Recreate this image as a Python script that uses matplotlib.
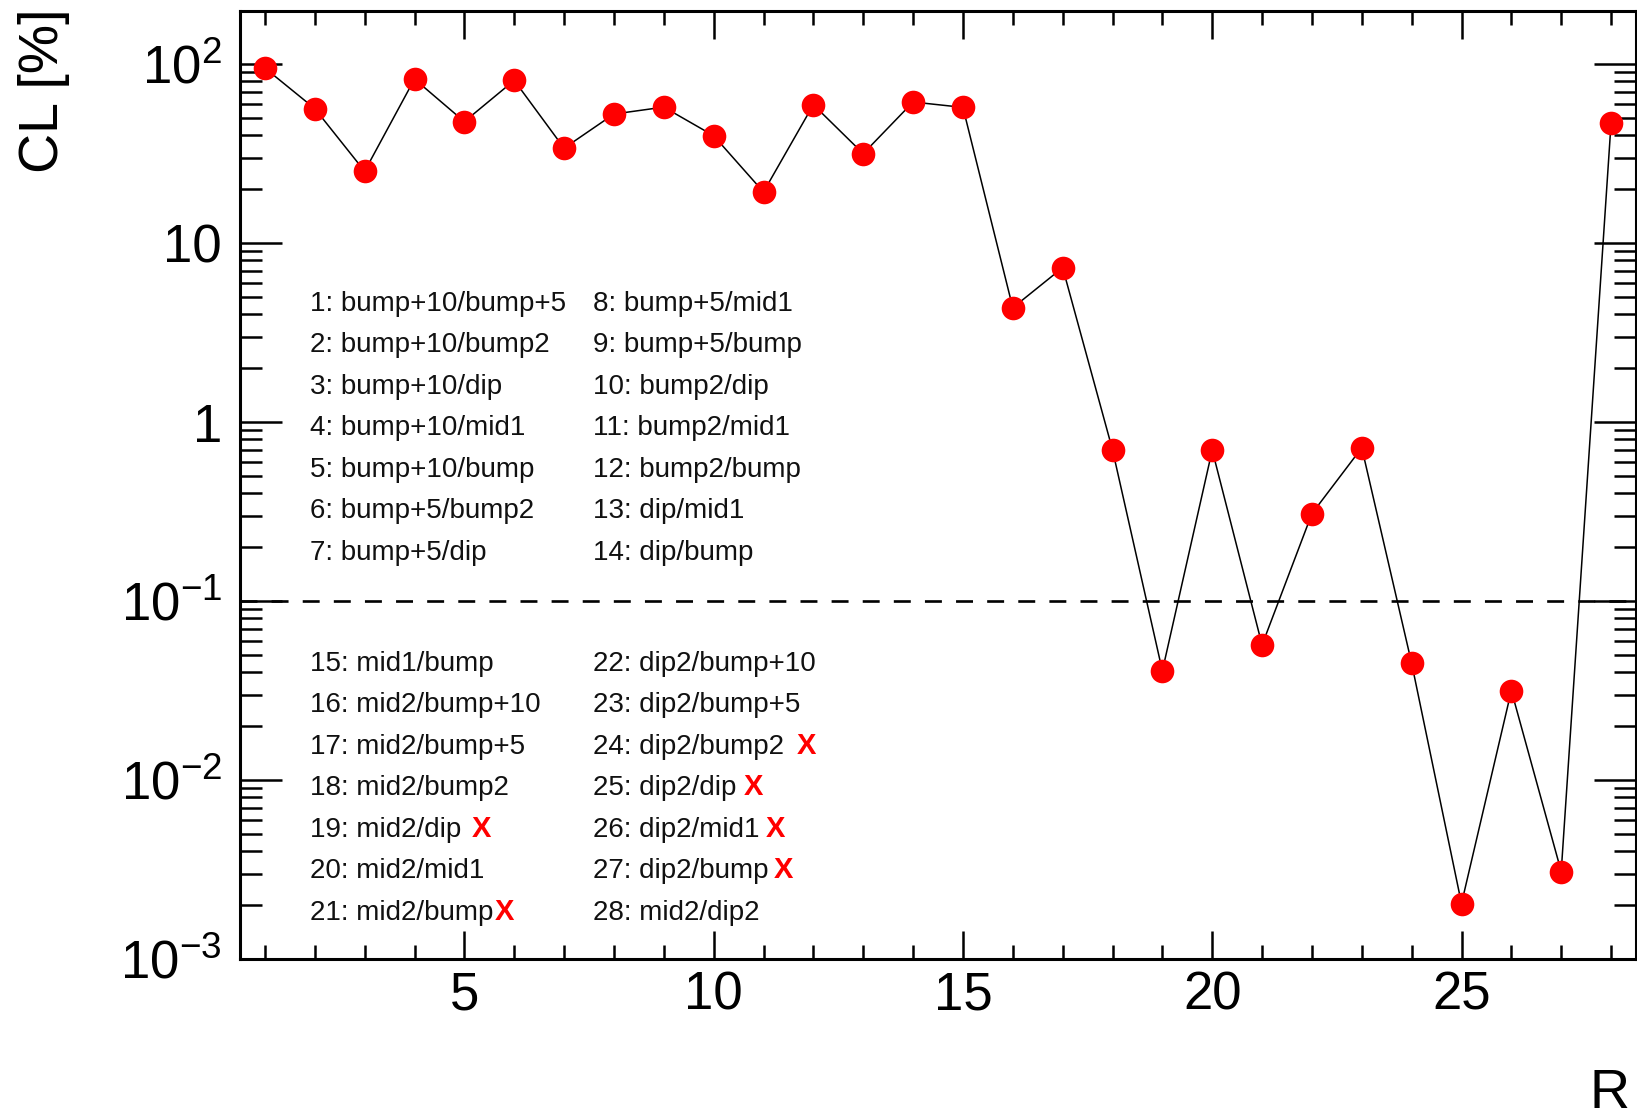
import matplotlib
matplotlib.use("Agg")
import matplotlib.pyplot as plt
from matplotlib.ticker import FixedLocator, FixedFormatter, LogLocator, NullFormatter, MultipleLocator
import numpy as np

plt.rcParams['font.family'] = ['Liberation Sans', 'DejaVu Sans']
plt.rcParams['mathtext.fontset'] = 'custom'
plt.rcParams['mathtext.rm'] = 'Liberation Sans'
plt.rcParams['mathtext.it'] = 'Liberation Sans:italic'
plt.rcParams['mathtext.bf'] = 'Liberation Sans:bold'
plt.rcParams['lines.scale_dashes'] = False

# -------------------------
# Data: confidence level per ratio
# -------------------------
ratio_index = np.arange(1, 29)
cl_percent = [95.0, 56.4, 25.2, 82.5, 47.7, 81.1, 33.9, 52.6, 57.5, 39.8,
              19.3, 59.3, 31.6, 61.4, 57.3, 4.35, 7.29, 0.70, 0.0407, 0.697,
              0.0568, 0.308, 0.718, 0.0449, 0.00204, 0.0316, 0.00308, 46.9]

ratio_names = [
    "bump+10/bump+5", "bump+10/bump2", "bump+10/dip", "bump+10/mid1",
    "bump+10/bump", "bump+5/bump2", "bump+5/dip", "bump+5/mid1",
    "bump+5/bump", "bump2/dip", "bump2/mid1", "bump2/bump",
    "dip/mid1", "dip/bump", "mid1/bump", "mid2/bump+10",
    "mid2/bump+5", "mid2/bump2", "mid2/dip", "mid2/mid1",
    "mid2/bump", "dip2/bump+10", "dip2/bump+5", "dip2/bump2",
    "dip2/dip", "dip2/mid1", "dip2/bump", "mid2/dip2",
]

# ratios flagged as rejected, with x pixel of the red mark
rejected_marks = {19: 472, 21: 495, 24: 797, 25: 744, 26: 766, 27: 774}

y_tick_values = [1e-3, 1e-2, 1e-1, 1, 10, 100]
y_tick_labels = [r"$10^{-3}$", r"$10^{-2}$", r"$10^{-1}$", "1", "10", r"$10^{2}$"]
x_tick_values = [5, 10, 15, 20, 25]
cl_threshold = 0.1

# -------------------------
# Figure
# -------------------------
W, H = 1637, 1118
fig = plt.figure(figsize=(W / 100, H / 100), dpi=100)

def fx(px):
    return px / W

def fy(py):
    return 1 - py / H

ax = fig.add_axes([fx(240), fy(959), fx(1636 - 240), (959 - 11) / H])
ax.set_yscale('log')

ax.plot(ratio_index, cl_percent, color='black', lw=1.1,
        marker='o', ms=17, mfc='red', mec='red', mew=0, zorder=3)
ax.axhline(cl_threshold, color='black', lw=1.9, dashes=(12.2, 10.2), zorder=2)

ax.set_xlim(0.5, 28.5)
ax.set_ylim(1e-3, 198)

ax.yaxis.set_major_locator(FixedLocator(y_tick_values))
ax.yaxis.set_major_formatter(FixedFormatter(y_tick_labels))
ax.yaxis.set_minor_locator(LogLocator(base=10, subs=np.arange(2, 10)))
ax.yaxis.set_minor_formatter(NullFormatter())
ax.xaxis.set_major_locator(FixedLocator(x_tick_values))
ax.xaxis.set_minor_locator(MultipleLocator(1))

ax.tick_params(which='both', direction='in', top=True, right=True,
               width=1.8, labelsize=38, colors='black')
ax.tick_params(axis='y', which='major', length=30, pad=13)
ax.tick_params(axis='y', which='minor', length=15.6)
ax.tick_params(axis='x', which='major', length=20.5, pad=8.5)
ax.tick_params(axis='x', which='minor', length=10)
for sp in ax.spines.values():
    sp.set_linewidth(2.2)

# axis titles, ROOT style: aligned to the end of the axes
fig.text(fx(44), fy(8), "CL [%]", rotation=90, ha='center', va='top', fontsize=40)
fig.text(fx(1630), fy(1108), "R", ha='right', va='baseline', fontsize=40)

# -------------------------
# Ratio key, two blocks of two columns
# -------------------------
col_x = [310, 593]
block_base = [310.7, 670.7]
row_step = 41.55
for i, name in enumerate(ratio_names):
    block = i // 14
    col = (i % 14) // 7
    row = i % 7
    y = block_base[block] + row * row_step
    fig.text(fx(col_x[col]), fy(y), f"{i + 1}: {name}", fontsize=20,
             ha='left', va='baseline', color='#111111')
    if (i + 1) in rejected_marks:
        fig.text(fx(rejected_marks[i + 1]), fy(y), "X", fontsize=21,
                 ha='left', va='baseline', color='red', fontweight='bold')

fig.savefig("out.png", dpi=100)
